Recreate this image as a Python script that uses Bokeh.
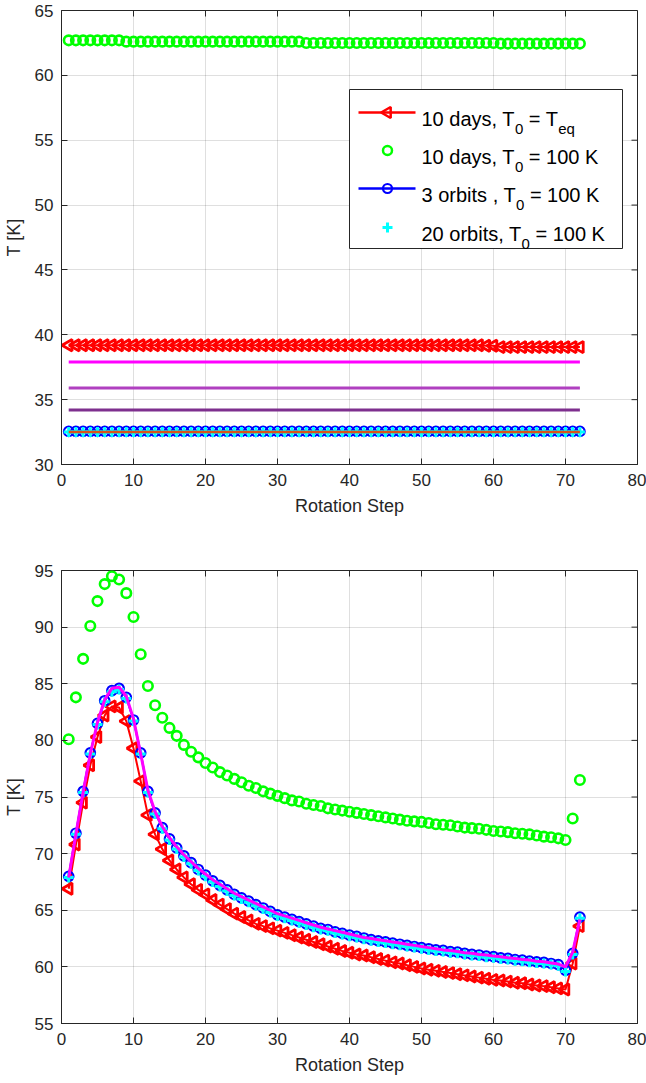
from bokeh.plotting import figure
from bokeh.models import Range1d, FixedTicker, Label
from bokeh.layouts import column
from bokeh.embed import file_html
from bokeh.resources import INLINE
import math

# ---------------- data ----------------
steps = list(range(1, 73))
x_ticks = [0, 10, 20, 30, 40, 50, 60, 70, 80]
y_ticks_top = [30, 35, 40, 45, 50, 55, 60, 65]
y_ticks_bot = [55, 60, 65, 70, 75, 80, 85, 90, 95]

legend_labels = [
    [("10 days, T", "m"), ("0", "s"), (" = T", "m"), ("eq", "s")],
    [("10 days, T", "m"), ("0", "s"), (" = 100 K", "m")],
    [("3 orbits , T", "m"), ("0", "s"), (" = 100 K", "m")],
    [("20 orbits, T", "m"), ("0", "s"), (" = 100 K", "m")],
]

# top panel
red_top = [
    39.2, 39.2, 39.2, 39.2, 39.2, 39.2, 39.2, 39.2, 39.2, 39.2, 39.2, 39.2,
    39.2, 39.2, 39.2, 39.2, 39.2, 39.2, 39.2, 39.2, 39.2, 39.2, 39.2, 39.2,
    39.2, 39.2, 39.2, 39.2, 39.2, 39.2, 39.2, 39.2, 39.2, 39.2, 39.2, 39.2,
    39.2, 39.2, 39.2, 39.2, 39.2, 39.2, 39.2, 39.2, 39.2, 39.2, 39.2, 39.2,
    39.2, 39.2, 39.2, 39.2, 39.2, 39.2, 39.2, 39.2, 39.2, 39.2, 39.15, 39.15,
    39.05, 39.05, 39.05, 39.05, 39.05, 39.05, 39.05, 39.05, 39.05, 39.05, 39.05, 39.05]
green_top = [
    62.7, 62.7, 62.7, 62.7, 62.7, 62.7, 62.7, 62.7, 62.6, 62.6, 62.6, 62.6,
    62.6, 62.6, 62.6, 62.6, 62.6, 62.6, 62.6, 62.6, 62.6, 62.6, 62.6, 62.6,
    62.6, 62.6, 62.6, 62.6, 62.6, 62.6, 62.6, 62.6, 62.6, 62.5, 62.5, 62.5,
    62.5, 62.5, 62.5, 62.5, 62.5, 62.5, 62.5, 62.5, 62.5, 62.5, 62.5, 62.5,
    62.5, 62.5, 62.5, 62.5, 62.5, 62.5, 62.5, 62.5, 62.5, 62.5, 62.5, 62.5,
    62.45, 62.45, 62.45, 62.45, 62.45, 62.45, 62.45, 62.45, 62.45, 62.45, 62.45, 62.45]
blue_top = [
    32.55, 32.55, 32.55, 32.55, 32.55, 32.55, 32.55, 32.55, 32.55, 32.55, 32.55, 32.55,
    32.55, 32.55, 32.55, 32.55, 32.55, 32.55, 32.55, 32.55, 32.55, 32.55, 32.55, 32.55,
    32.55, 32.55, 32.55, 32.55, 32.55, 32.55, 32.55, 32.55, 32.55, 32.55, 32.55, 32.55,
    32.55, 32.55, 32.55, 32.55, 32.55, 32.55, 32.55, 32.55, 32.55, 32.55, 32.55, 32.55,
    32.55, 32.55, 32.55, 32.55, 32.55, 32.55, 32.55, 32.55, 32.55, 32.55, 32.55, 32.55,
    32.55, 32.55, 32.55, 32.55, 32.55, 32.55, 32.55, 32.55, 32.55, 32.55, 32.55, 32.55]
cyan_top = [
    32.5, 32.5, 32.5, 32.5, 32.5, 32.5, 32.5, 32.5, 32.5, 32.5, 32.5, 32.5,
    32.5, 32.5, 32.5, 32.5, 32.5, 32.5, 32.5, 32.5, 32.5, 32.5, 32.5, 32.5,
    32.5, 32.5, 32.5, 32.5, 32.5, 32.5, 32.5, 32.5, 32.5, 32.5, 32.5, 32.5,
    32.5, 32.5, 32.5, 32.5, 32.5, 32.5, 32.5, 32.5, 32.5, 32.5, 32.5, 32.5,
    32.5, 32.5, 32.5, 32.5, 32.5, 32.5, 32.5, 32.5, 32.5, 32.5, 32.5, 32.5,
    32.5, 32.5, 32.5, 32.5, 32.5, 32.5, 32.5, 32.5, 32.5, 32.5, 32.5, 32.5]
magenta_top = [
    37.9, 37.9, 37.9, 37.9, 37.9, 37.9, 37.9, 37.9, 37.9, 37.9, 37.9, 37.9,
    37.9, 37.9, 37.9, 37.9, 37.9, 37.9, 37.9, 37.9, 37.9, 37.9, 37.9, 37.9,
    37.9, 37.9, 37.9, 37.9, 37.9, 37.9, 37.9, 37.9, 37.9, 37.9, 37.9, 37.9,
    37.9, 37.9, 37.9, 37.9, 37.9, 37.9, 37.9, 37.9, 37.9, 37.9, 37.9, 37.9,
    37.9, 37.9, 37.9, 37.9, 37.9, 37.9, 37.9, 37.9, 37.9, 37.9, 37.9, 37.9,
    37.9, 37.9, 37.9, 37.9, 37.9, 37.9, 37.9, 37.9, 37.9, 37.9, 37.9, 37.9]
purple_top = [
    35.9, 35.9, 35.9, 35.9, 35.9, 35.9, 35.9, 35.9, 35.9, 35.9, 35.9, 35.9,
    35.9, 35.9, 35.9, 35.9, 35.9, 35.9, 35.9, 35.9, 35.9, 35.9, 35.9, 35.9,
    35.9, 35.9, 35.9, 35.9, 35.9, 35.9, 35.9, 35.9, 35.9, 35.9, 35.9, 35.9,
    35.9, 35.9, 35.9, 35.9, 35.9, 35.9, 35.9, 35.9, 35.9, 35.9, 35.9, 35.9,
    35.9, 35.9, 35.9, 35.9, 35.9, 35.9, 35.9, 35.9, 35.9, 35.9, 35.9, 35.9,
    35.9, 35.9, 35.9, 35.9, 35.9, 35.9, 35.9, 35.9, 35.9, 35.9, 35.9, 35.9]
darkpurple_top = [
    34.2, 34.2, 34.2, 34.2, 34.2, 34.2, 34.2, 34.2, 34.2, 34.2, 34.2, 34.2,
    34.2, 34.2, 34.2, 34.2, 34.2, 34.2, 34.2, 34.2, 34.2, 34.2, 34.2, 34.2,
    34.2, 34.2, 34.2, 34.2, 34.2, 34.2, 34.2, 34.2, 34.2, 34.2, 34.2, 34.2,
    34.2, 34.2, 34.2, 34.2, 34.2, 34.2, 34.2, 34.2, 34.2, 34.2, 34.2, 34.2,
    34.2, 34.2, 34.2, 34.2, 34.2, 34.2, 34.2, 34.2, 34.2, 34.2, 34.2, 34.2,
    34.2, 34.2, 34.2, 34.2, 34.2, 34.2, 34.2, 34.2, 34.2, 34.2, 34.2, 34.2]
orange_top = [
    32.5, 32.5, 32.5, 32.5, 32.5, 32.5, 32.5, 32.5, 32.5, 32.5, 32.5, 32.5,
    32.5, 32.5, 32.5, 32.5, 32.5, 32.5, 32.5, 32.5, 32.5, 32.5, 32.5, 32.5,
    32.5, 32.5, 32.5, 32.5, 32.5, 32.5, 32.5, 32.5, 32.5, 32.5, 32.5, 32.5,
    32.5, 32.5, 32.5, 32.5, 32.5, 32.5, 32.5, 32.5, 32.5, 32.5, 32.5, 32.5,
    32.5, 32.5, 32.5, 32.5, 32.5, 32.5, 32.5, 32.5, 32.5, 32.5, 32.5, 32.5,
    32.5, 32.5, 32.5, 32.5, 32.5, 32.5, 32.5, 32.5, 32.5, 32.5, 32.5, 32.5]

# bottom panel
red_bot = [
    66.9, 70.8, 74.5, 77.8, 80.3, 82.2, 83.0, 82.9, 81.7, 79.3, 76.4, 73.4,
    71.7, 70.4, 69.4, 68.6, 67.9, 67.3, 66.8, 66.4, 65.9, 65.5, 65.1, 64.7,
    64.4, 64.1, 63.8, 63.6, 63.4, 63.2, 63.0, 62.8, 62.6, 62.4, 62.2, 62.0,
    61.8, 61.6, 61.4, 61.25, 61.1, 61.0, 60.85, 60.7, 60.55, 60.4, 60.3, 60.15,
    60.0, 59.85, 59.75, 59.65, 59.55, 59.45, 59.35, 59.25, 59.15, 59.05, 58.95, 58.85,
    58.8, 58.7, 58.6, 58.55, 58.45, 58.35, 58.3, 58.2, 58.1, 58.0, 60.3, 63.6]
green_bot = [
    80.1, 83.8, 87.2, 90.1, 92.3, 93.8, 94.5, 94.2, 93.0, 90.9, 87.6, 84.8,
    83.1, 82.0, 81.1, 80.4, 79.6, 79.0, 78.5, 78.0, 77.6, 77.2, 76.9, 76.6,
    76.3, 76.0, 75.8, 75.5, 75.3, 75.1, 74.9, 74.7, 74.6, 74.4, 74.3, 74.2,
    74.0, 73.9, 73.8, 73.7, 73.6, 73.5, 73.4, 73.3, 73.2, 73.1, 73.0, 72.9,
    72.85, 72.8, 72.7, 72.6, 72.55, 72.5, 72.4, 72.3, 72.25, 72.2, 72.1, 72.0,
    71.95, 71.9, 71.8, 71.75, 71.7, 71.6, 71.5, 71.45, 71.35, 71.2, 73.1, 76.5]
blue_bot = [
    68.0, 71.8, 75.5, 78.9, 81.5, 83.5, 84.4, 84.6, 83.8, 81.8, 78.9, 75.5,
    73.6, 72.3, 71.3, 70.5, 69.8, 69.2, 68.6, 68.1, 67.6, 67.2, 66.8, 66.4,
    66.1, 65.8, 65.5, 65.2, 64.9, 64.6, 64.4, 64.2, 64.0, 63.8, 63.6, 63.4,
    63.3, 63.1, 62.95, 62.8, 62.7, 62.55, 62.4, 62.3, 62.2, 62.1, 62.0, 61.9,
    61.8, 61.7, 61.6, 61.5, 61.45, 61.35, 61.3, 61.2, 61.1, 61.05, 60.95, 60.9,
    60.8, 60.75, 60.65, 60.6, 60.5, 60.45, 60.4, 60.3, 60.2, 59.7, 61.2, 64.4]
cyan_bot = [
    67.9, 71.7, 75.4, 78.8, 81.4, 83.4, 84.3, 84.5, 83.7, 81.7, 78.8, 75.4,
    73.5, 72.2, 71.2, 70.4, 69.7, 69.1, 68.5, 68.0, 67.5, 67.1, 66.7, 66.3,
    66.0, 65.7, 65.4, 65.1, 64.8, 64.5, 64.3, 64.1, 63.9, 63.7, 63.5, 63.3,
    63.2, 63.0, 62.85, 62.7, 62.6, 62.45, 62.3, 62.2, 62.1, 62.0, 61.9, 61.8,
    61.7, 61.6, 61.5, 61.4, 61.35, 61.25, 61.2, 61.1, 61.0, 60.95, 60.85, 60.8,
    60.7, 60.65, 60.55, 60.5, 60.4, 60.35, 60.3, 60.2, 60.1, 59.6, 61.1, 64.3]
magenta_bot = [
    67.9, 71.7, 75.4, 78.8, 81.6, 83.6, 84.6, 84.7, 83.9, 81.9, 78.8, 75.6,
    73.7, 72.4, 71.4, 70.6, 69.9, 69.3, 68.7, 68.2, 67.7, 67.3, 66.9, 66.5,
    66.2, 65.9, 65.6, 65.3, 65.0, 64.7, 64.5, 64.3, 64.1, 63.9, 63.7, 63.5,
    63.35, 63.2, 63.05, 62.9, 62.75, 62.6, 62.5, 62.4, 62.3, 62.2, 62.1, 62.0,
    61.9, 61.8, 61.7, 61.6, 61.5, 61.45, 61.35, 61.25, 61.2, 61.1, 61.05, 60.95,
    60.9, 60.8, 60.75, 60.65, 60.6, 60.5, 60.45, 60.35, 60.25, 60.0, 61.3, 64.2]

# ---------------- style ----------------
FONT = "Liberation Sans"
TXT = "#262626"
RED = "#ff0000"
GREEN = "#00ff00"
BLUE = "#0000ff"
CYAN = "#00ffff"
MAGENTA = "#ff00ff"
PURPLE = "#b040c0"
DARKPURPLE = "#7e2f8e"
ORANGE = "#d95319"

WIDTH = 646
FL, FR = 61, 9  # frame left / right borders
FW = WIDTH - FL - FR

# Arial / Liberation Sans advance widths (1/1000 em)
ADV = {'0': 556, '1': 556, '2': 556, '3': 556, ' ': 278, ',': 278, '=': 584,
       'K': 667, 'T': 611, 'a': 556, 'b': 556, 'd': 556, 'e': 556, 'i': 222,
       'o': 556, 'q': 556, 'r': 333, 's': 500, 't': 278, 'y': 500}


def tw(s, size):
    return sum(ADV.get(c, 556) for c in s) * size / 1000.0


def make_fig(height, btop, bbot, ylo, yhi, yticks, fh):
    p = figure(width=WIDTH, height=height,
               x_range=Range1d(0, 80), y_range=Range1d(ylo, yhi),
               output_backend="svg", toolbar_location=None,
               min_border_left=FL, min_border_right=FR,
               min_border_top=btop, min_border_bottom=bbot,
               x_axis_label="Rotation Step", y_axis_label="T [K]")
    p.background_fill_color = "white"
    p.border_fill_color = "white"
    p.outline_line_color = TXT
    p.outline_line_width = 1
    p.xaxis.ticker = FixedTicker(ticks=x_ticks)
    p.yaxis.ticker = FixedTicker(ticks=yticks)
    p.xgrid.ticker = FixedTicker(ticks=x_ticks)
    p.ygrid.ticker = FixedTicker(ticks=yticks)
    p.grid.grid_line_color = TXT
    p.grid.grid_line_alpha = 0.15
    p.grid.grid_line_width = 1
    for ax in list(p.xaxis) + list(p.yaxis):
        ax.major_tick_in = 6
        ax.major_tick_out = 0
        ax.minor_tick_in = 0
        ax.minor_tick_out = 0
        ax.axis_line_color = TXT
        ax.major_tick_line_color = TXT
        ax.major_label_text_font = FONT
        ax.major_label_text_font_size = "17px"
        ax.major_label_text_color = TXT
        ax.axis_label_text_font = FONT
        ax.axis_label_text_font_size = "18px"
        ax.axis_label_text_font_style = "normal"
        ax.axis_label_text_color = TXT
    p.xaxis.major_label_standoff = 9
    p.xaxis.axis_label_standoff = 7
    p.yaxis.major_label_standoff = 8
    p.yaxis.axis_label_standoff = 8
    # mirrored inward ticks on top and right edges (box on)
    tx = 6.0 / fh * (yhi - ylo)
    ty = 6.0 / FW * 80.0
    p.segment(x0=x_ticks, y0=[yhi] * len(x_ticks), x1=x_ticks,
              y1=[yhi - tx] * len(x_ticks), line_color=TXT, line_width=1)
    p.segment(x0=[80] * len(yticks), y0=yticks, x1=[80 - ty] * len(yticks),
              y1=yticks, line_color=TXT, line_width=1)
    return p


def legend(p, frame, ylo, yhi, box, rows_y, text_x, line_x, mark_x):
    ftop, fh = frame

    def dx(px):
        return (px - FL) / FW * 80.0

    def dy(py):
        return yhi - (py - ftop) / fh * (yhi - ylo)

    l, t, r, b = box
    p.quad(left=[dx(l)], right=[dx(r)], top=[dy(t)], bottom=[dy(b)],
           fill_color="white", line_color=TXT, line_width=1)
    ry = rows_y
    p.line(x=[dx(line_x[0]), dx(line_x[1])], y=[dy(ry[0])] * 2, line_color=RED, line_width=2.5)
    p.scatter(x=[dx(mark_x)], y=[dy(ry[0])], marker="triangle", angle=math.pi / 2,
              size=11, line_color=RED, fill_color=None, line_width=2.5)
    p.scatter(x=[dx(mark_x)], y=[dy(ry[1])], marker="circle", size=9,
              line_color=GREEN, fill_color=None, line_width=2.5)
    p.line(x=[dx(line_x[0]), dx(line_x[1])], y=[dy(ry[2])] * 2, line_color=BLUE, line_width=2.5)
    p.scatter(x=[dx(mark_x)], y=[dy(ry[2])], marker="circle", size=9,
              line_color=BLUE, fill_color=None, line_width=2.2)
    p.scatter(x=[dx(mark_x)], y=[dy(ry[3])], marker="cross", size=10,
              line_color=CYAN, line_width=3)
    MS, SS = 20, 15
    fbot = ftop + fh
    for row, yc in zip(legend_labels, ry):
        xp = text_x
        for txt, kind in row:
            sz = MS if kind == "m" else SS
            off = 6 if kind == "m" else 16
            lead = len(txt) - len(txt.lstrip(" "))
            xp += tw(" " * lead, sz)
            body = txt.lstrip(" ")
            p.add_layout(Label(x=xp - FL, y=fbot - (yc + off),
                               x_units="screen", y_units="screen",
                               text=body, text_font=FONT,
                               text_font_size=f"{sz}px", text_color="#000000",
                               text_baseline="alphabetic", text_align="left"))
            xp += tw(body, sz)


def draw_series(p, red, green, blue, cyan):
    p.line(steps, red, line_color=RED, line_width=2)
    p.scatter(steps, red, marker="triangle", angle=math.pi / 2, size=11.5,
              line_color=RED, fill_color=None, line_width=2.8)
    p.scatter(steps, green, marker="circle", size=9.5, line_color=GREEN,
              fill_color=None, line_width=2.6)
    p.line(steps, blue, line_color=BLUE, line_width=2)
    p.scatter(steps, blue, marker="circle", size=9.5, line_color=BLUE,
              fill_color=None, line_width=2.2)
    p.scatter(steps, cyan, marker="cross", size=10, line_color=CYAN, line_width=3)


# ---------------- top figure ----------------
p1 = make_fig(520, 10, 56, 30, 65, y_ticks_top, 454)
draw_series(p1, red_top, green_top, blue_top, cyan_top)
p1.line(steps, magenta_top, line_color=MAGENTA, line_width=3)
p1.line(steps, purple_top, line_color=PURPLE, line_width=3)
p1.line(steps, darkpurple_top, line_color=DARKPURPLE, line_width=3)
p1.line(steps, orange_top, line_color=ORANGE, line_width=2.5)
legend(p1, (10, 454), 30, 65, (349, 89, 622, 248), [112, 150, 188, 227],
       421, (358, 415), 387)

# ---------------- bottom figure ----------------
p2 = make_fig(563, 50, 60, 55, 95, y_ticks_bot, 453)
draw_series(p2, red_bot, green_bot, blue_bot, cyan_bot)
p2.line(steps, magenta_bot, line_color=MAGENTA, line_width=3)
legend(p2, (50, 453), 55, 95, (347, 585, 619, 744), [608, 646, 684, 722],
       418, (356, 412), 384)

layout = column(p1, p2, spacing=0)
open("out.html", "w").write(file_html(layout, INLINE))
